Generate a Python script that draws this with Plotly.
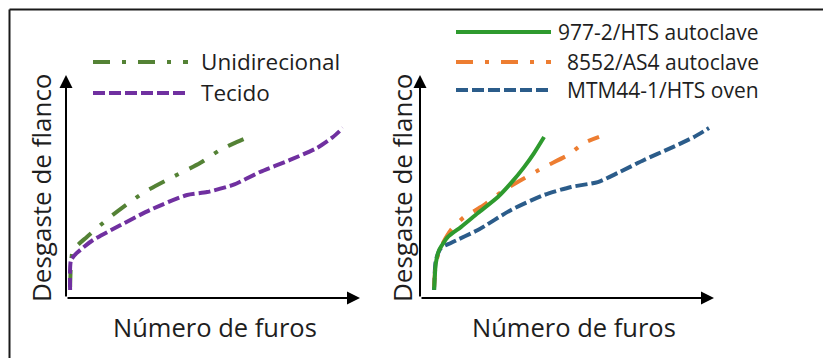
import plotly.graph_objects as go

W, H = 823, 358

# ---- data (arbitrary units: x = holes, y = flank wear, both 0..100) ----
uni_x = [1.4, 1.7, 2.4, 7.1, 15.0, 26.2, 36.4, 45.6, 52.4, 58.2, 63.6]
uni_y = [4.9, 15.7, 21.5, 27.4, 36.3, 47.1, 54.3, 60.5, 66.4, 70.0, 73.1]

tec_x = [1.4, 1.7, 3.7, 9.2, 17.3, 28.6, 41.2, 48.0, 56.8, 66.0, 76.2, 85.4, 90.8, 94.2]
tec_y = [3.6, 17.0, 20.2, 26.0, 31.8, 39.5, 46.2, 47.5, 50.7, 56.5, 61.9, 67.3, 72.2, 76.2]

hts977_x = [4.8, 5.4, 6.5, 9.5, 13.9, 19.7, 26.5, 31.0, 35.4, 38.8, 42.2]
hts977_y = [3.6, 15.7, 21.5, 27.4, 31.8, 38.1, 45.3, 51.6, 58.7, 65.0, 72.2]

as4_x = [4.8, 5.4, 7.1, 10.5, 15.0, 20.7, 28.6, 34.4, 42.2, 50.3, 55.8, 60.9]
as4_y = [4.9, 15.7, 22.9, 30.5, 36.3, 40.8, 48.4, 52.9, 58.7, 64.1, 69.5, 72.2]

mtm_x = [4.8, 5.4, 7.1, 10.5, 19.7, 31.0, 42.2, 51.4, 60.5, 67.3, 76.2, 85.4, 93.2, 98.3]
mtm_y = [3.6, 17.0, 22.4, 24.7, 30.5, 39.5, 46.2, 49.8, 52.0, 56.1, 61.9, 67.3, 72.2, 76.2]

left_names = ["Unidirecional", "Tecido"]
right_names = ["977-2/HTS autoclave", "8552/AS4 autoclave", "MTM44-1/HTS oven"]
x_title = "Número de furos"
y_title = "Desgaste de flanco"

# ---- styles ----
C_UNI, C_TEC = "#548235", "#7030A0"
C_977, C_AS4, C_MTM = "#2E9A2E", "#ED7D31", "#2B5C8A"
DASHDOT = "17px,12px,4px,12px"
DASH = "12px,4px"
LW = 4
FONT = "Open Sans"
TXT = "#1e1e1e"

def px(x):
    return x / W

def py(y):
    return 1 - y / H

fig = go.Figure()

fig.add_trace(go.Scatter(x=uni_x, y=uni_y, mode="lines", name=left_names[0],
                         line=dict(color=C_UNI, width=LW, dash=DASHDOT, shape="spline", smoothing=0.6),
                         xaxis="x", yaxis="y", showlegend=False))
fig.add_trace(go.Scatter(x=tec_x, y=tec_y, mode="lines", name=left_names[1],
                         line=dict(color=C_TEC, width=LW, dash=DASH, shape="spline", smoothing=0.6),
                         xaxis="x", yaxis="y", showlegend=False))
fig.add_trace(go.Scatter(x=mtm_x, y=mtm_y, mode="lines", name=right_names[2],
                         line=dict(color=C_MTM, width=LW, dash=DASH, shape="spline", smoothing=0.6),
                         xaxis="x2", yaxis="y2", showlegend=False))
fig.add_trace(go.Scatter(x=as4_x, y=as4_y, mode="lines", name=right_names[1],
                         line=dict(color=C_AS4, width=LW, dash=DASHDOT, shape="spline", smoothing=0.6),
                         xaxis="x2", yaxis="y2", showlegend=False))
fig.add_trace(go.Scatter(x=hts977_x, y=hts977_y, mode="lines", name=right_names[0],
                         line=dict(color=C_977, width=LW, shape="spline", smoothing=0.6),
                         xaxis="x2", yaxis="y2", showlegend=False))

ydom = [py(298), py(75)]
ax_common = dict(range=[0, 100], visible=False, fixedrange=True)
fig.update_layout(
    width=W, height=H,
    margin=dict(l=0, r=0, t=0, b=0),
    paper_bgcolor="white", plot_bgcolor="rgba(0,0,0,0)",
    xaxis=dict(domain=[px(66), px(360)], anchor="y", **ax_common),
    yaxis=dict(domain=ydom, anchor="x", **ax_common),
    xaxis2=dict(domain=[px(420), px(714)], anchor="y2", **ax_common),
    yaxis2=dict(domain=ydom, anchor="x2", **ax_common),
    showlegend=False,
)

annotations = []
shapes = []

# axes with arrows
for xa, ya in (("x", "y"), ("x2", "y2")):
    annotations.append(dict(x=0, y=100, ax=0, ay=0, xref=xa, yref=ya, axref=xa, ayref=ya,
                            showarrow=True, arrowhead=2, arrowsize=1.3, arrowwidth=2,
                            arrowcolor="black", text=""))
    annotations.append(dict(x=100, y=0, ax=0, ay=0, xref=xa, yref=ya, axref=xa, ayref=ya,
                            showarrow=True, arrowhead=2, arrowsize=1.3, arrowwidth=2,
                            arrowcolor="black", text=""))

# axis titles
for cx in (215, 574):
    annotations.append(dict(x=px(cx), y=py(327), xref="paper", yref="paper", text=x_title,
                            showarrow=False, font=dict(family=FONT, size=25.5, color=TXT),
                            xanchor="center", yanchor="middle"))
for cx in (41, 402):
    annotations.append(dict(x=px(cx), y=py(188), xref="paper", yref="paper", text=y_title,
                            showarrow=False, textangle=-90, font=dict(family=FONT, size=26, color=TXT),
                            xanchor="center", yanchor="middle"))

# manual legends (long line samples)
leg_left = [(left_names[0], C_UNI, DASHDOT, 62, 199), (left_names[1], C_TEC, DASH, 93, 199)]
for name, col, dash, yy, tx in leg_left:
    shapes.append(dict(type="line", xref="paper", yref="paper", x0=px(93), x1=px(188),
                       y0=py(yy), y1=py(yy), line=dict(color=col, width=LW, dash=dash)))
    annotations.append(dict(x=px(tx), y=py(yy), xref="paper", yref="paper", text=name,
                            showarrow=False, xanchor="left", yanchor="middle",
                            font=dict(family=FONT, size=22.5, color=TXT)))

leg_right = [(right_names[0], C_977, "solid", 32, 556), (right_names[1], C_AS4, DASHDOT, 62, 565),
             (right_names[2], C_MTM, DASH, 90, 565)]
for name, col, dash, yy, tx in leg_right:
    shapes.append(dict(type="line", xref="paper", yref="paper", x0=px(456), x1=px(551),
                       y0=py(yy), y1=py(yy), line=dict(color=col, width=LW, dash=dash)))
    annotations.append(dict(x=px(tx), y=py(yy), xref="paper", yref="paper", text=name,
                            showarrow=False, xanchor="left", yanchor="middle",
                            font=dict(family=FONT, size=21, color=TXT)))

# outer frame (left and top edges)
shapes.append(dict(type="line", xref="paper", yref="paper", x0=px(9.5), x1=px(9.5), y0=0, y1=py(9.5),
                   line=dict(color="#1a1a1a", width=2)))
shapes.append(dict(type="line", xref="paper", yref="paper", x0=px(9.5), x1=1, y0=py(9.5), y1=py(9.5),
                   line=dict(color="#1a1a1a", width=2)))

fig.update_layout(annotations=annotations, shapes=shapes)
fig.write_html("out.html", config={"displayModeBar": False},
               post_script="document.body.style.margin='0';document.body.style.overflow='hidden';")
